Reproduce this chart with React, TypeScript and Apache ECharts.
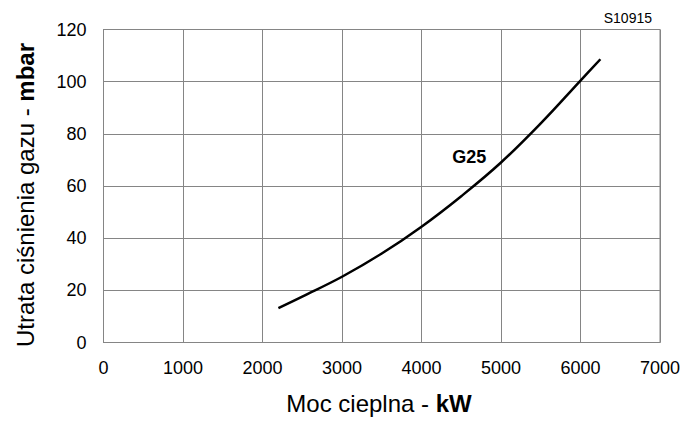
import React, { useEffect, useRef } from "react";
import * as echarts from "echarts";

const xTicks = [0, 1000, 2000, 3000, 4000, 5000, 6000, 7000];
const yTicks = [0, 20, 40, 60, 80, 100, 120];
const powerKW = [2200, 2500, 3000, 3500, 4000, 4500, 5000, 5500, 6000, 6250];
const lossMbar = [13.2, 17.6, 25.2, 34.1, 44.4, 56.1, 69.0, 84.0, 100.4, 108.6];
const seriesName = "G25";
const seriesLabelAt = [4600, 71.2];
const codeLabel = "S10915";

const FONT = "'Liberation Sans', Arial, Helvetica, sans-serif";
const GRID_COLOR = "#858585";

export default function App() {
  const ref = useRef<HTMLDivElement>(null);
  useEffect(() => {
    if (!ref.current) return;
    const chart = echarts.init(ref.current, null, { renderer: "svg" });
    const data = powerKW.map((x, i) => [x, lossMbar[i]]);
    chart.setOption({
      animation: false,
      backgroundColor: "#ffffff",
      textStyle: { fontFamily: FONT },
      grid: {
        left: 103.5,
        right: 38,
        top: 29.5,
        bottom: 79.5,
        show: true,
        borderColor: GRID_COLOR,
        borderWidth: 1,
      },
      xAxis: {
        type: "value",
        min: xTicks[0],
        max: xTicks[xTicks.length - 1],
        interval: 1000,
        axisLine: { show: true, lineStyle: { color: GRID_COLOR, width: 1 } },
        axisTick: { show: false },
        splitLine: { show: true, lineStyle: { color: GRID_COLOR, width: 1 } },
        axisLabel: {
          color: "#000",
          fontSize: 18,
          fontFamily: FONT,
          margin: 16,
          formatter: (v: number) => String(v),
        },
      },
      yAxis: {
        type: "value",
        min: yTicks[0],
        max: yTicks[yTicks.length - 1],
        interval: 20,
        axisLine: { show: true, lineStyle: { color: GRID_COLOR, width: 1 } },
        axisTick: { show: false },
        splitLine: { show: true, lineStyle: { color: GRID_COLOR, width: 1 } },
        axisLabel: {
          color: "#000",
          fontSize: 18,
          fontFamily: FONT,
          margin: 17,
          formatter: (v: number) => String(v),
        },
      },
      series: [
        {
          name: seriesName,
          type: "line",
          data,
          smooth: 0.4,
          symbol: "none",
          lineStyle: { color: "#000", width: 2.5 },
          markPoint: {
            symbol: "circle",
            symbolSize: 0,
            data: [
              {
                coord: seriesLabelAt,
                label: {
                  show: true,
                  position: "inside",
                  formatter: seriesName,
                  color: "#000",
                  fontSize: 18,
                  fontWeight: "bold",
                  fontFamily: FONT,
                },
              },
            ],
          },
        },
      ],
      graphic: [
        {
          type: "text",
          right: 46,
          top: 11,
          style: { text: codeLabel, fill: "#000", font: `14px ${FONT}` },
        },
        {
          type: "text",
          x: 379,
          y: 403,
          style: {
            text: "{n|Moc cieplna - }{b|kW}",
            align: "center",
            verticalAlign: "middle",
            rich: {
              n: { fontSize: 24, fontFamily: FONT, fill: "#000" },
              b: { fontSize: 24, fontFamily: FONT, fontWeight: "bold", fill: "#000" },
            },
          },
        },
        {
          type: "text",
          x: 25,
          y: 195,
          rotation: Math.PI / 2,
          style: {
            text: "{n|Utrata ciśnienia gazu - }{b|mbar}",
            align: "center",
            verticalAlign: "middle",
            rich: {
              n: { fontSize: 24, fontFamily: FONT, fill: "#000" },
              b: { fontSize: 24, fontFamily: FONT, fontWeight: "bold", fill: "#000" },
            },
          },
        },
      ],
    });
    return () => chart.dispose();
  }, []);
  return (
    <div
      ref={ref}
      style={{ position: "fixed", left: 0, top: 0, width: 698, height: 422, background: "#fff" }}
    />
  );
}
